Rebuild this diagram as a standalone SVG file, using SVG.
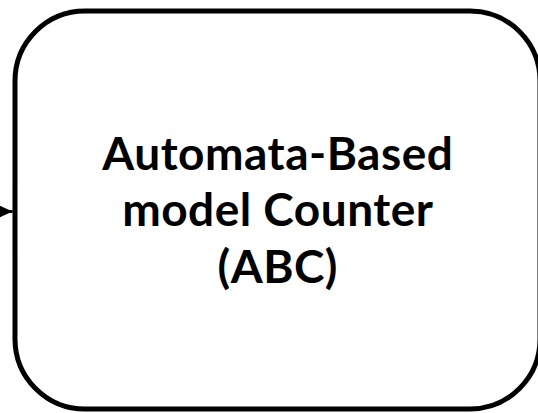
<svg xmlns="http://www.w3.org/2000/svg" width="538" height="413" viewBox="0 0 538 413">
  <style>
    .box { fill: #ffffff; stroke: #000000; stroke-width: 5; }
    .label { font-family: "Lato", "Liberation Sans", sans-serif; font-weight: bold; font-size: 46px; letter-spacing: 0.5px; fill: #000000; text-anchor: middle; }
    .edge { stroke: #000000; stroke-width: 3; fill: none; }
  </style>
  <defs>
    <marker id="arrow" markerWidth="15" markerHeight="14" refX="15" refY="7" orient="auto" markerUnits="userSpaceOnUse">
      <path d="M0,0 L15,7 L0,14 Z" fill="#000000"/>
    </marker>
  </defs>
  <rect width="538" height="413" fill="#ffffff"/>
  <g id="connectors">
    <path class="edge" d="M-40,211.5 L12.5,211.5" marker-end="url(#arrow)"/>
  </g>
  <g id="abc">
    <rect class="box" x="15" y="11" width="525" height="398" rx="70" ry="70"/>
    <text class="label" x="277.8" y="169.5">Automata-Based</text>
    <text class="label" x="277.8" y="226">model Counter</text>
    <text class="label" x="277.8" y="282.5">(ABC)</text>
  </g>
</svg>
